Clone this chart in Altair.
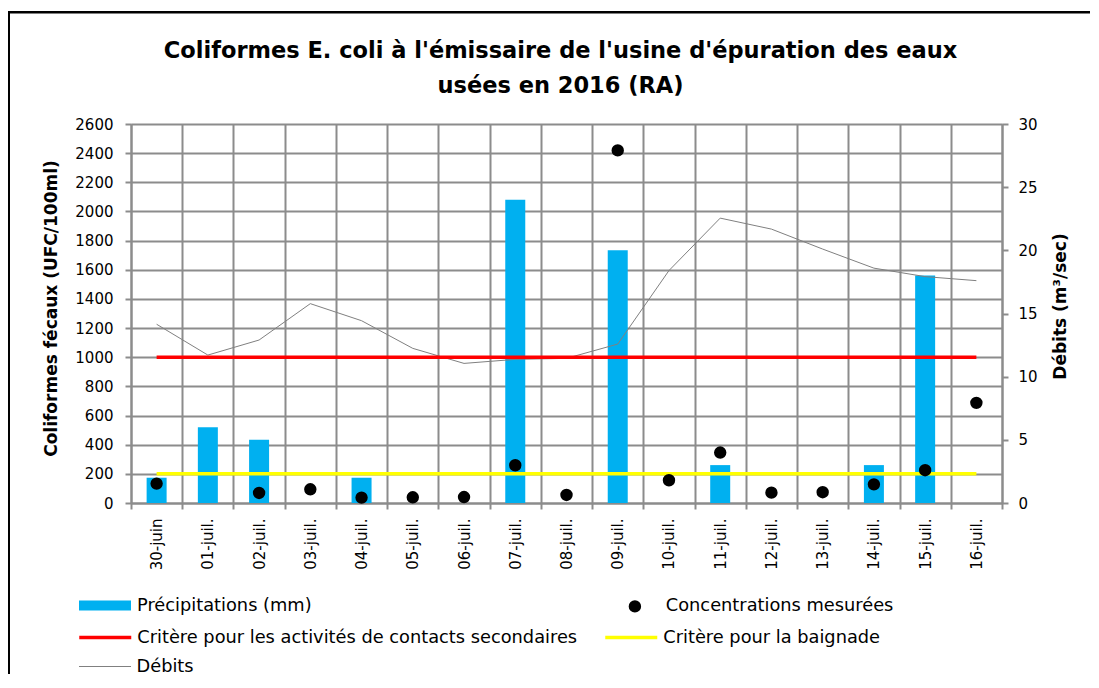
import altair as alt
import pandas as pd

# ---------------- data ----------------
dates = ["30-juin", "01-juil.", "02-juil.", "03-juil.", "04-juil.", "05-juil.",
         "06-juil.", "07-juil.", "08-juil.", "09-juil.", "10-juil.", "11-juil.",
         "12-juil.", "13-juil.", "14-juil.", "15-juil.", "16-juil."]
precipitations = [2, 6, 5, None, 2, None, None, 24, None, 20, None, 3, None, None, 3, 18, None]
concentrations = [133, None, 69, 94, 37, 39, 41, 259, 55, 2419, 156, 346, 71, 74, 128, 225, 687]
debits = [14.15, 11.71, 12.9, 15.78, 14.43, 12.24, 11.05, 11.37, 11.45, 12.58,
          18.4, 22.55, 21.68, 20.1, 18.59, 17.92, 17.6]
critere_secondaire = 1000
critere_baignade = 200

left_ticks = list(range(0, 2601, 200))
right_ticks = [0, 5, 10, 15, 20, 25, 30]

lab_precip = "Précipitations (mm)"
lab_conc = "Concentrations mesurées"
lab_sec = "Critère pour les activités de contacts secondaires"
lab_bain = "Critère pour la baignade"
lab_debit = "Débits"

title_lines = ["Coliformes E. coli à l'émissaire de l'usine d'épuration des eaux",
               "usées en 2016 (RA)"]

df = pd.DataFrame({
    "date": dates,
    "precip": precipitations,
    "conc": concentrations,
    "debit": debits,
    "sec": [critere_secondaire] * len(dates),
    "bain": [critere_baignade] * len(dates),
})

# ---------------- style ----------------
FONT = "DejaVu Sans"
GRID = "#8c8c8c"
W, H = 871, 379
LEG_FS = 17.8

x_enc = alt.X(
    "date:N", sort=dates, title=None,
    scale=alt.Scale(domain=dates, paddingInner=0, paddingOuter=0),
    axis=alt.Axis(tickBand="extent", grid=True, gridColor=GRID, gridWidth=2,
                  domainColor=GRID, domainWidth=2, tickColor=GRID, tickWidth=2,
                  tickSize=6, labelAngle=-90, labelAlign="right", labelBaseline="middle",
                  labelFontSize=15, labelFont=FONT, labelColor="black", labelPadding=9),
)

left_scale = alt.Scale(domain=[0, 2600], nice=False)
right_scale = alt.Scale(domain=[0, 30], nice=False)

left_axis = alt.Axis(orient="left", values=left_ticks, format="d", grid=True,
                     gridColor=GRID, gridWidth=2,
                     domainColor=GRID, domainWidth=2, tickColor=GRID, tickWidth=2, tickSize=6,
                     labelFontSize=15, labelFont=FONT, labelColor="black", labelPadding=12,
                     title="Coliformes fécaux (UFC/100ml)", titleFont=FONT, titleFontSize=17,
                     titleFontWeight="bold", titleColor="black", titleAngle=-90,
                     titleX=-80, titleY=184, titleAlign="center", titleBaseline="middle")

right_axis = alt.Axis(orient="right", values=right_ticks, format="d", grid=False,
                      domainColor=GRID, domainWidth=2, tickColor=GRID, tickWidth=2, tickSize=6,
                      labelFontSize=15, labelFont=FONT, labelColor="black", labelPadding=10,
                      title="Débits (m³/sec)", titleFont=FONT, titleFontSize=17,
                      titleFontWeight="bold", titleColor="black", titleAngle=-90,
                      titleX=58, titleY=182, titleAlign="center", titleBaseline="middle")

BAR_PATH = "M-1,-0.1923H1V0.1923H-1Z"


def leg(x, y, **kw):
    return alt.Legend(orient="none", legendX=x, legendY=y, title=None, padding=0,
                      labelFont=FONT, labelFontSize=LEG_FS, labelColor="black",
                      labelLimit=0, **kw)


base = alt.Chart(df)

bars = base.transform_calculate(lab=f"'{lab_precip}'").mark_bar(size=20).encode(
    x=x_enc,
    y=alt.Y("precip:Q", scale=right_scale, axis=right_axis),
    color=alt.Color("lab:N", scale=alt.Scale(domain=[lab_precip], range=["#00B0F0"]),
                    legend=leg(-52, 455.5, symbolType=BAR_PATH, symbolSize=2704,
                               symbolStrokeWidth=0, labelOffset=6)),
)

debit_line = base.transform_calculate(lab=f"'{lab_debit}'").mark_line(strokeWidth=1).encode(
    x=x_enc,
    y=alt.Y("debit:Q", scale=right_scale, axis=right_axis),
    color=alt.Color("lab:N", scale=alt.Scale(domain=[lab_debit], range=["#808080"]),
                    legend=leg(-52.5, 516, symbolType="stroke", symbolSize=2704,
                               symbolStrokeWidth=1, labelOffset=5)),
)

sec_line = base.transform_calculate(lab=f"'{lab_sec}'").mark_line(strokeWidth=3.5).encode(
    x=x_enc,
    y=alt.Y("sec:Q", scale=left_scale, axis=left_axis),
    color=alt.Color("lab:N", scale=alt.Scale(domain=[lab_sec], range=["#FF0000"]),
                    legend=leg(-53.75, 485.5, symbolType="stroke", symbolSize=2704,
                               symbolStrokeWidth=3.5, labelOffset=4)),
)

bain_line = base.transform_calculate(lab=f"'{lab_bain}'").mark_line(strokeWidth=3.5).encode(
    x=x_enc,
    y=alt.Y("bain:Q", scale=left_scale, axis=left_axis),
    color=alt.Color("lab:N", scale=alt.Scale(domain=[lab_bain], range=["#FFFF00"]),
                    legend=leg(472.25, 485.5, symbolType="stroke", symbolSize=2704,
                               symbolStrokeWidth=3.5, labelOffset=4)),
)

dots = base.transform_calculate(lab=f"'{lab_conc}'").mark_point(
    filled=True, size=154, color="black", opacity=1).encode(
    x=x_enc,
    y=alt.Y("conc:Q", scale=left_scale, axis=left_axis),
    shape=alt.Shape("lab:N", scale=alt.Scale(domain=[lab_conc], range=["circle"]),
                    legend=leg(495, 473.5, symbolSize=154, symbolFillColor="black",
                               symbolStrokeWidth=0, labelOffset=22)),
)

frame_df = pd.DataFrame({"k": [0]})
frame_top = alt.Chart(frame_df).mark_rule(color="black", strokeWidth=2.6).encode(
    x=alt.value(-123.6), x2=alt.value(959), y=alt.value(-111.8))
frame_left = alt.Chart(frame_df).mark_rule(color="black", strokeWidth=2.6).encode(
    x=alt.value(-122.3), y=alt.value(-113.1), y2=alt.value(560))

right_group = alt.layer(bars, debit_line).resolve_scale(color="independent")
left_group = alt.layer(sec_line, bain_line, dots).resolve_scale(color="independent")

chart = alt.layer(right_group, left_group, frame_top, frame_left).resolve_scale(
    y="independent", color="independent", shape="independent"
).properties(
    width=W, height=H,
    title=alt.TitleParams(title_lines, font=FONT, fontSize=22.5, fontWeight="bold",
                          color="black", anchor="middle", lineHeight=35,
                          offset=0, dy=88, dx=-6),
    autosize=alt.AutoSizeParams(type="none"),
    padding={"left": 123, "top": 116, "right": 88, "bottom": 171},
).configure_view(strokeWidth=0).configure(background="white")

chart.save("out.html", embed_options={"renderer": "svg", "actions": False})
